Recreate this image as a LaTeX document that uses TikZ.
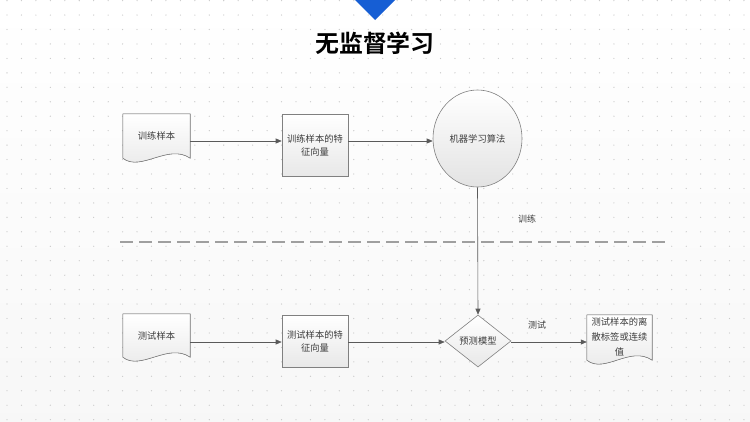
\documentclass[tikz,border=0pt]{standalone}
\usepackage{fontspec}
\newfontfamily\cjk{Noto Sans CJK SC}
\newfontfamily\cjkb{Noto Sans CJK SC Bold}
\usetikzlibrary{shapes.geometric,calc,arrows.meta}
\definecolor{tblue}{RGB}{22,94,212}
\definecolor{lgray}{RGB}{90,90,90}
\definecolor{bgray}{RGB}{128,128,128}
\definecolor{txt}{RGB}{60,60,60}
\begin{document}
\begin{tikzpicture}[x=1bp,y=-1bp,
  every node/.style={font=\cjk\fontsize{9.3}{13}\selectfont, text=txt},
  boxnode/.style={draw=bgray, line width=0.6bp, top color=white, bottom color=gray!18, align=center, inner sep=1bp},
  docnode/.style={align=center, inner sep=1bp},
  arr/.style={draw=lgray, line width=0.6bp, -{Triangle[length=6bp,width=5bp]}},
  lbl/.style={font=\cjk\fontsize{9}{11}\selectfont, text=txt}
]
% background
\path[top color=white, bottom color=gray!6] (0,0) rectangle (750,421);
\useasboundingbox (0,0) rectangle (750,421);
\foreach \i in {0,...,51} {
  \foreach \j in {0,...,29} {
    \fill[gray!42] (7+\i*14.45, 0.6+\j*14.45) circle (0.65bp);
  }
}
% top triangle and title
\fill[tblue] (355,0) -- (395,0) -- (375,20) -- cycle;
\node[font=\cjkb\fontsize{24}{27}\selectfont, text=black] (title) at (375,43) {无监督学习};

% row 1
\node[docnode, minimum width=67bp, minimum height=44bp] (d1) at (156.5,136) {};
\filldraw[draw=bgray, line width=0.6bp, top color=white, bottom color=gray!18]
  (d1.north west) -- (d1.south west)
  .. controls ($(d1.south west)+(18,14)$) and ($(d1.south east)+(-22,-15)$) .. (d1.south east)
  -- (d1.north east) -- cycle;
\node[docnode] (d1t) at (d1) {训练样本};

\node[boxnode, minimum width=66bp, minimum height=62bp, text width=62bp] (b1) at (315,145) {训练样本的特\\征向量};

\node[draw=bgray, line width=0.6bp, ellipse, top color=white, bottom color=gray!22, minimum width=89bp, minimum height=97bp] (alg) at (477.5,138.5) {机器学习算法};

% row 2
\node[docnode, minimum width=67bp, minimum height=43bp] (d2) at (156.5,335.5) {};
\filldraw[draw=bgray, line width=0.6bp, top color=white, bottom color=gray!18]
  (d2.north west) -- (d2.south west)
  .. controls ($(d2.south west)+(18,14)$) and ($(d2.south east)+(-22,-15)$) .. (d2.south east)
  -- (d2.north east) -- cycle;
\node[docnode] (d2t) at (d2) {测试样本};

\node[boxnode, minimum width=66bp, minimum height=52bp, text width=62bp] (b2) at (315,341) {测试样本的特\\征向量};

\node[draw=bgray, line width=0.6bp, diamond, shape aspect=1.27, top color=white, bottom color=gray!18, minimum width=66bp, minimum height=52bp, inner sep=0bp] (pm) at (478,341) {预测模型};

\node[docnode, minimum width=65bp, minimum height=45bp] (d3) at (619.5,337.5) {};
\filldraw[draw=bgray, line width=0.6bp, top color=white, bottom color=gray!18]
  (d3.north west) -- (d3.south west)
  .. controls ($(d3.south west)+(18,14)$) and ($(d3.south east)+(-22,-15)$) .. (d3.south east)
  -- (d3.north east) -- cycle;
\node[docnode, text width=63bp, font=\cjk\fontsize{9.3}{15}\selectfont] (d3t) at ($(d3)+(0,-1)$) {测试样本的离\\散标签或连续\\值};

% separator
\coordinate (sepL) at (120,242);
\coordinate (sepR) at (668,242);
\draw[gray!75, line width=1.3bp, dash pattern=on 13bp off 6bp] (sepL) -- (sepR);

% connectors
\coordinate (row1) at (0,141);
\coordinate (row2) at (0,342);
\draw[arr] (d1.east |- row1) -- (b1.west |- row1);
\draw[arr] (b1.east |- row1) -- (alg.west |- row1);
\draw[arr] (alg.south) -- (pm.north);
\draw[arr] (d2.east |- row2) -- (b2.west |- row2);
\draw[arr] (b2.east |- row2) -- (pm.west |- row2);
\draw[arr] (pm.east |- row2) -- (d3.west |- row2);

\node[lbl] (l1) at (527,219) {训练};
\node[lbl] (l2) at (537,325) {测试};
\end{tikzpicture}
\end{document}
